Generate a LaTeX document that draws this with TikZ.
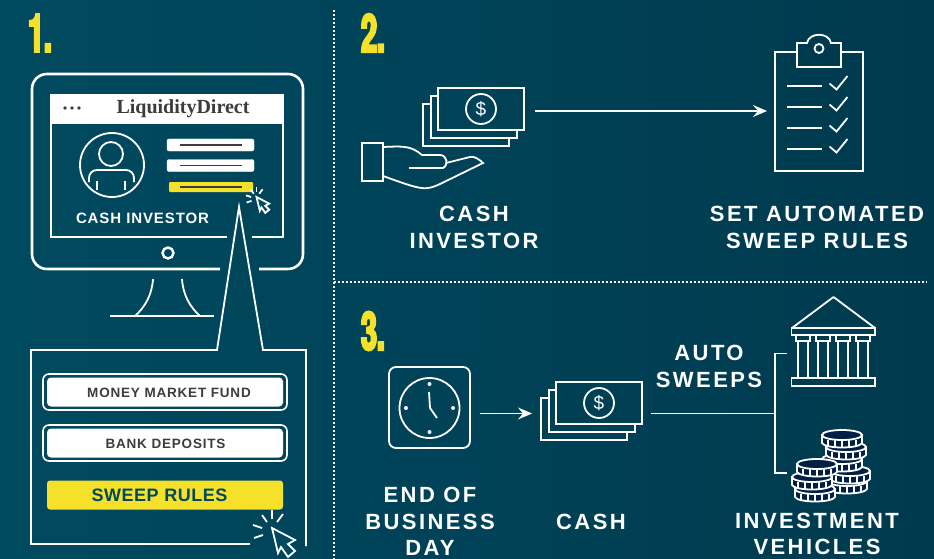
\documentclass[tikz,border=0pt]{standalone}
\usepackage{fontspec}
\setmainfont{Liberation Sans}
\newfontfamily\lblfont[LetterSpace=11]{Liberation Sans}
\newfontfamily\btnfont[LetterSpace=6]{Liberation Sans}
\newfontfamily\swfont[LetterSpace=3]{Liberation Sans}
\newfontfamily\numfont[FakeStretch=0.54,FakeBold=4]{TeX Gyre Heros}
\newfontfamily\brandfont{Liberation Serif}
\usetikzlibrary{positioning, calc, arrows.meta}
\definecolor{bgleft}{HTML}{004A60}
\definecolor{bgmid}{HTML}{00465C}
\definecolor{bgright}{HTML}{003A4E}
\definecolor{sunny}{HTML}{F5E02A}
\definecolor{inkgray}{HTML}{3C3C3C}
\definecolor{coinnavy}{HTML}{001F44}
\tikzset{
  wht/.style={draw=white, line width=1.8pt},
  lbl/.style={text=white, font=\lblfont\bfseries\fontsize{22}{26}\selectfont, inner sep=0pt},
  num/.style={text=sunny, font=\numfont\bfseries\fontsize{53}{53}\selectfont, inner sep=0pt},
  btn/.style={text=inkgray, font=\btnfont\bfseries\fontsize{13.5}{16}\selectfont, inner sep=0pt},
  dots/.style={white, line width=1.8pt, dash pattern=on 2pt off 2pt},
  outerbtn/.style={draw=white, line width=1.6pt, rounded corners=6pt, minimum width=244pt, minimum height=36pt, inner sep=0pt},
  innerbtn/.style={fill=white, rounded corners=4pt, minimum width=236pt, minimum height=29pt, inner sep=0pt},
  field/.style={fill=white, draw=white, rounded corners=2pt, minimum width=87pt, minimum height=12pt, inner sep=0pt},
  tip/.style={-{Stealth[length=14pt, width=12pt, inset=5pt]}},
  bills/.pic={
    \draw [wht] (-50,-5) -- (-58,-5) -- (-58,37) -- (28,37) -- (28,29);
    \draw [wht] (-43,-13) -- (-50,-13) -- (-50,29) -- (36,29) -- (36,21);
    \draw [wht] (-43,-21) rectangle (43,21);
    \draw [wht] (0,0) circle (15);
    \node [text=white, font=\fontsize{19}{19}\selectfont, inner sep=0pt] at (0,0) {\$};
  },
  coin/.pic={
    \draw [wht, fill=coinnavy] (-20,0) -- (-20,8) .. controls (-17,14) and (17,14) .. (20,8) -- (20,0) -- cycle;
    \foreach \tx in {-14,-7,0,7,14}
      \draw [draw=white, line width=1.3pt] (\tx,5) -- (\tx,12);
    \draw [wht, fill=coinnavy] (0,0) ellipse (20 and 5);
  },
  click/.pic={
    \foreach \ax/\ay/\bx/\by in {0/-18/0/-9, -10/-13/-5/-6, 11/-14/5/-6, -19/-3/-10/0, -18/10/-9/7}
      \draw [draw=white, line width=1.8pt] (\ax,\ay) -- (\bx,\by);
    \draw [wht, fill=bgleft] (0,0) -- (6,25) -- (9,19) -- (16,29) -- (23,23) -- (16,16) -- (23,12) -- cycle;
  }
}
\begin{document}
\begin{tikzpicture}[x=1pt, y=-1pt]
  \shade [left color=bgleft, middle color=bgmid, right color=bgright] (0,0) rectangle (934,559);
  \useasboundingbox (0,0) rectangle (934,559);

  % dividers
  \draw [dots] (334,10) -- (334,559);
  \draw [dots] (334,282) -- (927,282);

  \node (num1) [num] at (40,33) {1.};
  \node (num2) [num] at (373,33) {2.};
  \node (num3) [num] at (373,331) {3.};

  % monitor
  \draw [wht, line width=2.6pt, rounded corners=15pt] (220,269) -- (32,269) -- (32,74) -- (303,74) -- (303,269) -- (259,269);
  \draw [wht] (227,237) -- (51,237) -- (51,95) -- (283,95) -- (283,237) -- (252,237);
  \node (topbar) [fill=white, minimum width=234pt, minimum height=30pt, inner sep=0pt] at (167,109) {};
  \foreach \dx in {65,72,79}
    \fill [inkgray] (\dx,108) circle (1.8);
  \node (brand) [text=inkgray, font=\brandfont\bfseries\fontsize{20}{20}\selectfont, inner sep=0pt] at (183,109) {LiquidityDirect};
  \draw [wht] (112,165) circle (32);
  \draw [wht] (111,154) circle (12);
  \draw [wht, rounded corners=8pt] (89,182) -- (89,170) -- (134,170) -- (134,182);
  \draw [wht] (97,181) -- (97,190);
  \draw [wht] (125,181) -- (125,190);
  \node (fielda) [field] at (210.5,145) {};
  \node (fieldb) [field] at (210.5,165.5) {};
  \node (fieldc) [fill=sunny, rounded corners=1pt, minimum width=84pt, minimum height=10pt, inner sep=0pt] at (211,187) {};
  \foreach \fy in {145,165.5,187}
    \draw [inkgray, line width=1.3pt] (180,\fy) -- (242,\fy);
  \pic [scale=0.55] at (256.5,197) {click};
  \node (screenlbl) [text=white, font=\btnfont\bfseries\fontsize{15}{17}\selectfont, inner sep=0pt] at (142.5,218) {CASH INVESTOR};
  \draw [wht, line width=2.4pt] (168,253) circle (5.5);
  \draw [wht] (153,279) .. controls (152,295) and (145,307) .. (135,316);
  \draw [wht] (182,279) .. controls (183,295) and (190,307) .. (200,316);
  \draw [wht] (110,316) -- (214,316);

  % callout
  \draw [wht] (250,544) -- (31,544) -- (31,350) -- (217,350) -- (239,207) -- (263,350) -- (306,350) -- (306,546);
  \node (mmoutline) [outerbtn] at (165,392) {};
  \node (mmfill) [innerbtn] at (165,392) {};
  \node (mmlbl) [btn] at (169,393) {MONEY MARKET FUND};
  \node (bdoutline) [outerbtn] at (165,443) {};
  \node (bdfill) [innerbtn] at (165,443) {};
  \node (bdlbl) [btn] at (165.5,444) {BANK DEPOSITS};
  \node (swfill) [fill=sunny, rounded corners=3pt, minimum width=236pt, minimum height=29pt, inner sep=0pt] at (165,495) {};
  \node (swlbl) [text=bgleft, font=\swfont\bfseries\fontsize{18}{20}\selectfont, inner sep=0pt] at (159.5,495) {SWEEP RULES};
  \pic at (272,528) {click};

  % step 2
  \pic (billsa) at (481,109) {bills};
  \draw [wht] (383,147) .. controls (405,146) and (411,146) .. (422,155) -- (440,155) .. controls (447,155) and (449,165) .. (443,168) -- (409,168);
  \draw [wht] (446,163) -- (470,157) .. controls (475,156) and (480,160) .. (483,163) -- (440,184) .. controls (425,191) and (422,190) .. (383,176);
  \node (cuff) [wht, minimum width=21pt, minimum height=38pt, inner sep=0pt] at (372.5,162) {};
  \coordinate (sa) at (535,111);
  \coordinate (sb) at (767,111);
  \draw [draw=white, line width=1.3pt, tip] (sa) -- (sb);
  \node (boardbox) [wht, minimum width=88pt, minimum height=119pt, inner sep=0pt] at (819,111.5) {};
  \draw [wht, fill=bgright] (797,43) -- (807,43) .. controls (809,32) and (829,32) .. (831,43) -- (841,43) -- (841,67) -- (797,67) -- cycle;
  \draw [wht] (819,48.5) circle (4.5);
  \foreach \ly in {0,21,42,63} {
    \draw [wht] (787,86+\ly) -- (822,86+\ly);
    \draw [wht] (829.5,83.5+\ly) -- (836.5,89.5+\ly) -- (847.5,76+\ly);
  }
  \node (cashlbl) [lbl] at (474,214) {CASH};
  \node (invlbl) [lbl] at (474,241) {INVESTOR};
  \node (setlbl) [lbl] at (817,214) {SET AUTOMATED};
  \node (rulelbl) [lbl] at (817,241) {SWEEP RULES};

  % step 3
  \node (clockbox) [wht, rounded corners=7pt, minimum width=81pt, minimum height=81pt, inner sep=0pt] at (429.5,407.5) {};
  \draw [wht] (429.5,408) circle (30);
  \foreach \cx/\cy in {429.5/384, 429.5/432, 406/408, 453/408}
    \fill [white] (\cx,\cy) circle (2);
  \draw [wht, line join=round] (429,392) -- (430,408) -- (437,418);
  \coordinate (ta) at (480,413.5);
  \coordinate (tb) at (532,413.5);
  \draw [draw=white, line width=1.3pt, tip] (ta) -- (tb);
  \pic (billsb) at (599,403) {bills};
  \coordinate (ua) at (651,413.5);
  \coordinate (ub) at (775,413.5);
  \coordinate (uc) at (787,353.5);
  \coordinate (ud) at (787,473);
  \draw [wht] (ua) -- (ub);
  \draw [wht] (uc) -| (ub) |- (ud);

  % bank
  \draw [wht, line join=round] (792,328) -- (833.5,297) -- (875,328);
  \draw [wht] (791.5,328) rectangle (875,335);
  \foreach \kx in {802.7,823.3,843.3,863.3} {
    \draw [wht] (\kx-7,335) rectangle (\kx+7,341);
    \draw [wht] (\kx-5,341) -- (\kx-5,378);
    \draw [wht] (\kx+5,341) -- (\kx+5,378);
  }
  \draw [wht] (791.5,378) rectangle (875,386);

  % coins
  \pic at (847,481) {coin};
  \pic at (850,471) {coin};
  \pic at (842,459) {coin};
  \pic at (846,447) {coin};
  \pic at (842,435) {coin};
  \pic at (815,489) {coin};
  \pic at (812,477) {coin};
  \pic at (817,464) {coin};

  \node (endlbl) [lbl] at (430,495) {END OF};
  \node (buslbl) [lbl] at (430,522) {BUSINESS};
  \node (daylbl) [lbl] at (430,548) {DAY};
  \node (cashb) [lbl] at (591,522) {CASH};
  \node (autolbl) [lbl] at (709,353) {AUTO};
  \node (sweepslbl) [lbl] at (709,380) {SWEEPS};
  \node (investlbl) [lbl] at (817,521) {INVESTMENT};
  \node (vehlbl) [lbl] at (817,547) {VEHICLES};
\end{tikzpicture}
\end{document}
